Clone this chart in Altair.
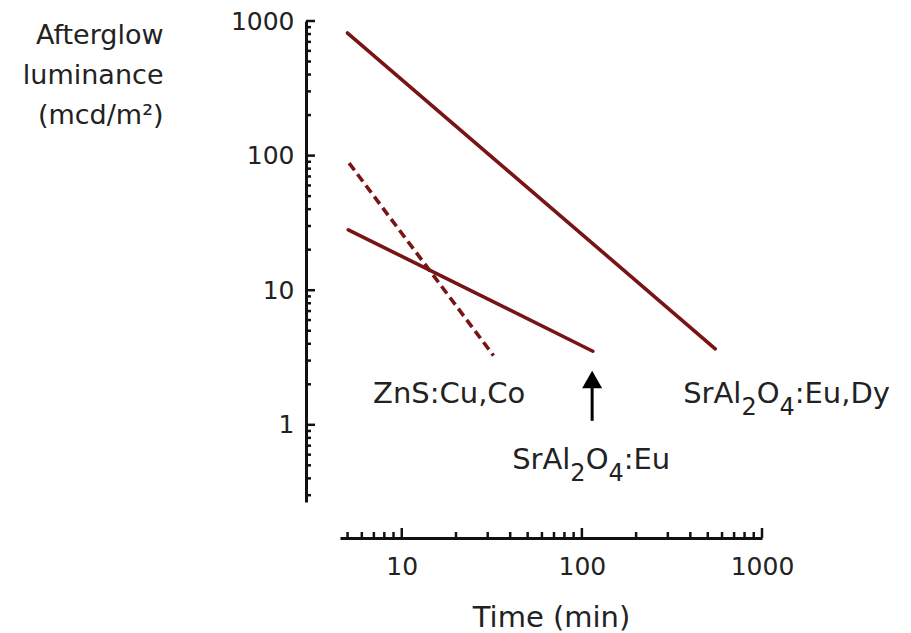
import altair as alt
import pandas as pd

# ---------------- data ----------------
series_names = ["SrAl2O4:Eu,Dy", "SrAl2O4:Eu", "ZnS:Cu,Co"]
eudy_time = [5.0, 550.0]
eudy_lum = [814.0, 3.67]
eu_time = [5.05, 115.0]
eu_lum = [28.1, 3.52]
zns_time = [5.1, 32.3]
zns_lum = [88.0, 3.27]

x_tick_labels = [10, 100, 1000]
y_tick_labels = [1, 10, 100, 1000]
x_minor_ticks = [5, 6, 7, 8, 9, 20, 30, 40, 50, 60, 70, 80, 90,
                 200, 300, 400, 500, 600, 700, 800, 900]
y_minor_ticks = [0.3, 0.4, 0.5, 0.6, 0.7, 0.8, 0.9, 2, 3, 4, 5, 6, 7, 8, 9,
                 20, 30, 40, 50, 60, 70, 80, 90, 200, 300, 400, 500, 600, 700, 800, 900]
x_domain = [4.54, 1000]
y_domain = [0.267, 1000]

arrow_time = [114.0]
arrow_from = [1.07]
arrow_to = [1.95]
arrow_head = [2.17]

# ---------------- style ----------------
FONT = "DejaVu Sans"
RED = "#781414"
AX = "#111111"
TXT = "#222222"
W, H = 422, 481
YOFF, XOFF = 34, 36
LW = 3.6

xs = alt.Scale(type="log", domain=x_domain, nice=False)
ys = alt.Scale(type="log", domain=y_domain, nice=False)

x_axis = alt.Axis(values=x_tick_labels, format="d", offset=XOFF, ticks=False, grid=False,
                  domainWidth=3, domainColor=AX, labelFont=FONT, labelFontSize=25,
                  labelColor=TXT, labelPadding=16, labelFlush=False, labelOverlap=False,
                  title="Time (min)", titleFont=FONT, titleFontSize=29, titleFontWeight="normal",
                  titleColor=TXT, titleY=88, titleBaseline="alphabetic")
y_axis = alt.Axis(values=y_tick_labels, format="d", offset=YOFF, ticks=False, grid=False,
                  domainWidth=3, domainColor=AX, labelFont=FONT, labelFontSize=25,
                  labelColor=TXT, labelPadding=12, labelFlush=False, labelOverlap=False,
                  title=["Afterglow", "luminance", "(mcd/m²)"], titleAngle=0,
                  titleAlign="right", titleBaseline="alphabetic", titleX=-143, titleY=22,
                  titleLineHeight=40, titleFont=FONT, titleFontSize=27,
                  titleFontWeight="normal", titleColor=TXT)


def X(field):
    return alt.X(field, scale=xs, axis=x_axis)


def Y(field):
    return alt.Y(field, scale=ys, axis=y_axis)


solid_df = pd.DataFrame({
    "series": [series_names[0]] * len(eudy_time) + [series_names[1]] * len(eu_time),
    "time": eudy_time + eu_time,
    "lum": eudy_lum + eu_lum,
})
dash_df = pd.DataFrame({"series": [series_names[2]] * len(zns_time),
                        "time": zns_time, "lum": zns_lum})

solid = alt.Chart(solid_df).mark_line(color=RED, strokeWidth=LW, strokeCap="round").encode(
    x=X("time:Q"), y=Y("lum:Q"), detail="series:N")
dashed = alt.Chart(dash_df).mark_line(color=RED, strokeWidth=LW, strokeDash=[9, 5]).encode(
    x=X("time:Q"), y=Y("lum:Q"))


def ytick_layer(vals, length):
    return alt.Chart(pd.DataFrame({"v": vals})).mark_rule(color=AX, strokeWidth=2.5).encode(
        y=Y("v:Q"), x=alt.value(-YOFF), x2=alt.value(-YOFF + length))


def xtick_layer(vals, length):
    return alt.Chart(pd.DataFrame({"v": vals})).mark_rule(color=AX, strokeWidth=2.5).encode(
        x=X("v:Q"), y=alt.value(H + XOFF), y2=alt.value(H + XOFF - length))


ticks = [ytick_layer(y_tick_labels, 9), ytick_layer(y_minor_ticks, 5),
         xtick_layer(x_tick_labels, 10), xtick_layer(x_minor_ticks, 6)]

arrow_df = pd.DataFrame({"time": arrow_time, "lo": arrow_from, "hi": arrow_to, "head": arrow_head})
arrow_shaft = alt.Chart(arrow_df).mark_rule(color="#000000", strokeWidth=3).encode(
    x=X("time:Q"), y=Y("lo:Q"), y2="hi:Q")
arrow_tip = alt.Chart(arrow_df).mark_point(shape="triangle-up", size=400, filled=True,
                                           color="#000000", opacity=1).encode(
    x=X("time:Q"), y=Y("head:Q"))

# ---------------- labels with subscripts ----------------
MAIN, SUB, SUBDY = 29, 24, 12
w_SrAl = 2.008 * MAIN
w_sub = 0.636 * SUB
w_O = 0.787 * MAIN


def formula_pieces(tail):
    return [("SrAl", 0, 0, MAIN), ("2", w_SrAl, SUBDY, SUB), ("O", w_SrAl + w_sub, 0, MAIN),
            ("4", w_SrAl + w_sub + w_O, SUBDY, SUB), (tail, w_SrAl + 2 * w_sub + w_O, 0, MAIN)]


label_defs = [
    (6.93, 1.46, [("ZnS:Cu,Co", 0, 0, MAIN)]),
    (41.0, 0.472, formula_pieces(":Eu")),
    (365.0, 1.46, formula_pieces(":Eu,Dy")),
]

label_layers = []
for t, l, pieces in label_defs:
    for text, dx, dy, size in pieces:
        df = pd.DataFrame({"text": [text], "time": [t], "lum": [l]})
        label_layers.append(
            alt.Chart(df).mark_text(align="left", baseline="alphabetic", dx=dx, dy=dy,
                                    fontSize=size, font=FONT, color=TXT).encode(
                x=X("time:Q"), y=Y("lum:Q"), text="text:N"))

chart = alt.layer(solid, dashed, *ticks, arrow_shaft, arrow_tip, *label_layers).properties(
    width=W, height=H,
    padding={"left": 340, "top": 21, "right": 911 - 340 - W, "bottom": 633 - 21 - H},
    autosize="none",
    background="white",
).configure_view(stroke="transparent")

chart.save("out.html", embed_options={"renderer": "svg", "actions": False})
